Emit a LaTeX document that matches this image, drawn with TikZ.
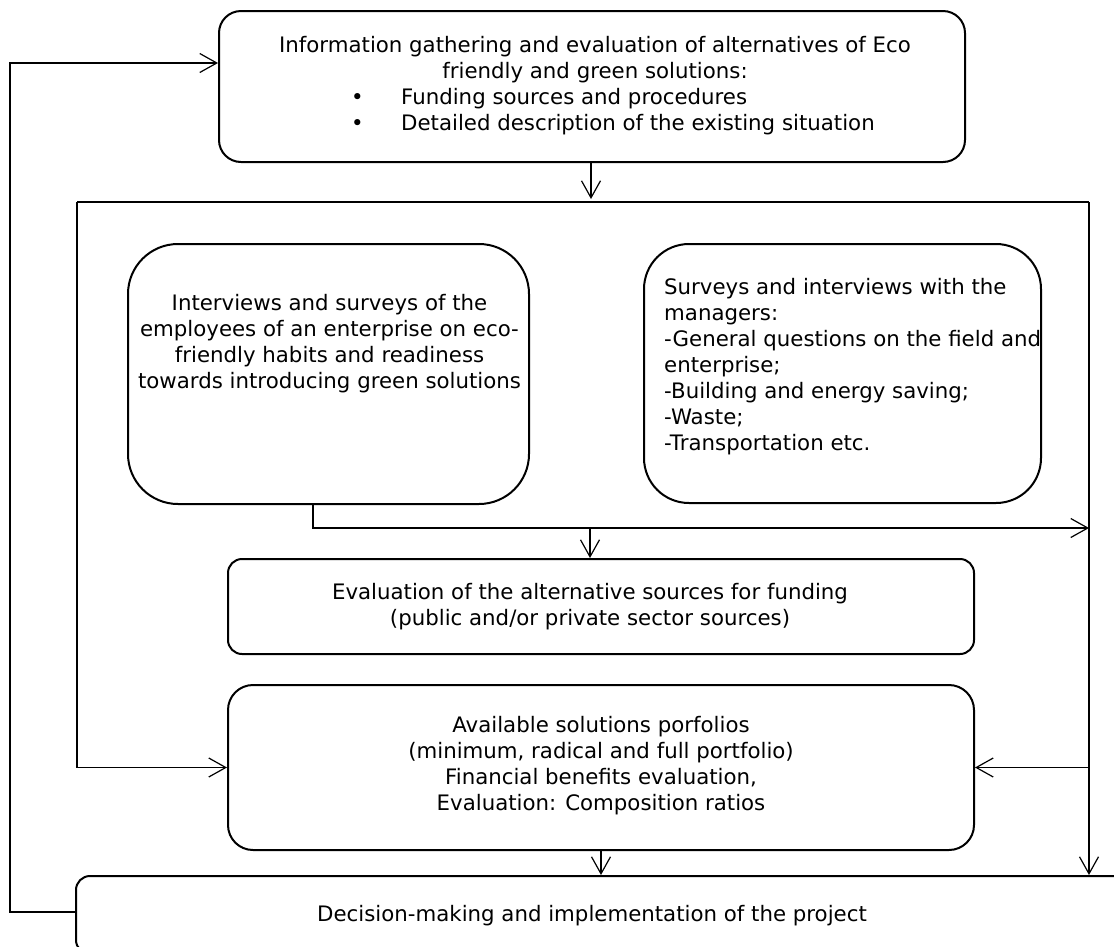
\documentclass[tikz,border=0pt]{standalone}
\usepackage{fontspec}
\setmainfont{DejaVu Sans}
\usetikzlibrary{arrows.meta,calc}
\tikzset{
  boxshape/.style={draw, line width=2pt, inner sep=0pt, anchor=north west},
  conn/.style={line width=1.2pt},
  arr/.style={conn, -{Straight Barb[length=17pt,width=19pt,line width=1.2pt]}},
  txt/.style={inner sep=0pt, font=\fontsize{21.3}{26}\selectfont},
}
\begin{document}
\begin{tikzpicture}[x=1pt,y=-1pt]
\useasboundingbox (0,0) rectangle (1114,946);
\clip (0,0) rectangle (1114,946);
\fill[white] (0,0) rectangle (1114,946);
% boxes
\node[boxshape, rounded corners=22pt, minimum width=746pt, minimum height=151pt] (top) at (218,10) {};
\node[boxshape, rounded corners=50pt, minimum width=401pt, minimum height=260pt] (lbox) at (127,243) {};
\node[boxshape, rounded corners=45pt, minimum width=397pt, minimum height=259pt] (rbox) at (643,243) {};
\node[boxshape, rounded corners=14pt, minimum width=746pt, minimum height=95pt] (eval) at (227,558) {};
\node[boxshape, rounded corners=25pt, minimum width=746pt, minimum height=165pt] (port) at (227,684) {};
\node[boxshape, rounded corners=14pt, minimum width=1050pt, minimum height=78pt] (bottom) at (75,875) {};
% texts
\node[txt, anchor=north, align=center] (toptext) at (595,36) {Information gathering and evaluation of alternatives of Eco\\friendly and green solutions:};
\node[txt, anchor=north west, align=left] (topbul) at (351,88) {\makebox[50pt][l]{•}Funding sources and procedures\\\makebox[50pt][l]{•}Detailed description of the existing situation};
\node[txt, anchor=north, align=center] (ltext) at (329.5,294) {Interviews and surveys of the\\employees of an enterprise on eco-\\friendly habits and readiness\\towards introducing green solutions};
\node[txt, anchor=north west, align=left] (rtext) at (664,278) {Surveys and interviews with the\\managers:\\-General questions on the field and\\enterprise;\\-Building and energy saving;\\-Waste;\\-Transportation etc.};
\node[txt, anchor=north, align=center] (etext) at (590,583) {Evaluation of the alternative sources for funding\\(public and/or private sector sources)};
\node[txt, anchor=north, align=center] (ptext) at (601,716) {Available solutions porfolios\\(minimum, radical and full portfolio)\\Financial benefits evaluation,\\Evaluation: Composition ratios};
\node[txt, anchor=north, align=center] (btext) at (592,905) {Decision-making and implementation of the project};
% coordinates
\coordinate (fl) at (77,202);
\coordinate (fr) at (1089,202);
\coordinate (tj) at (591,161);
\coordinate (tjend) at (591,199);
\coordinate (lj) at (313,503);
\coordinate (lc) at (313,528);
\coordinate (rc) at (1089,528);
\coordinate (mj) at (590,528);
\coordinate (o1) at (10,912);
\coordinate (o2) at (10,63);
% connectors
\draw[arr] (tj) -- (tjend);
\draw[conn] (fl) -- (fr);
\draw[arr] (fl) -- (fl |- port.west) -- (port.west);
\draw[arr] (fr) -- (fr |- bottom.north);
\draw[arr] (fr |- port.east) -- (port.east);
\draw[arr] (lj) -- (lc) -- (rc);
\draw[arr] (mj) -- (mj |- eval.north);
\draw[arr] (port.south) -- (port.south |- bottom.north);
\draw[arr] (bottom.west |- o1) -- (o1) -- (o2) -- (o2 -| top.west);
\end{tikzpicture}
\end{document}
